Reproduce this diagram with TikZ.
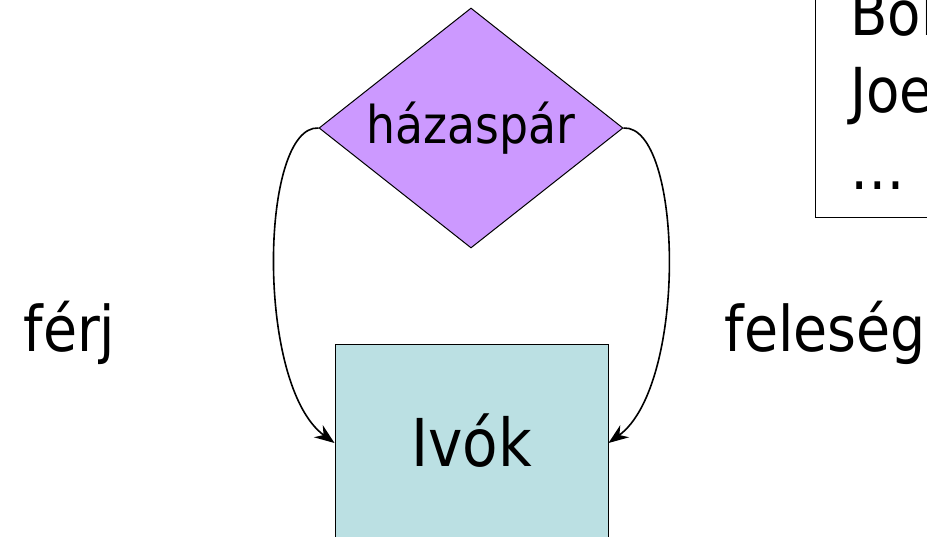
\documentclass[tikz,border=0pt]{standalone}
\usepackage{fontspec}
\setmainfont{DejaVu Sans}[FakeStretch=0.88]
\usetikzlibrary{arrows.meta,shapes.geometric}
\definecolor{relfill}{RGB}{204,153,255}
\definecolor{entfill}{RGB}{187,224,227}

\begin{document}
\begin{tikzpicture}[x=1pt,y=-1pt]
	\useasboundingbox (0,0) rectangle (927,537);
	\clip (0,0) rectangle (927,537);
	\begin{scope}[every node/.style = {draw=black, line width=1pt, inner sep=0pt}]
		\node[diamond, aspect=1.27, fill=relfill, minimum width=304pt, minimum height=240pt,
			font=\fontsize{52}{60}\selectfont] (H) at (471,128) {házaspár};
		\node[rectangle, fill=entfill, minimum width=273pt, minimum height=196pt, text depth=5pt,
			font=\fontsize{66}{70}\selectfont] (I) at (471.5,443) {Ivók};
		\node[rectangle, anchor=south west, align=left, inner xsep=35pt, inner ysep=28pt,
			font=\fontsize{62}{77}\selectfont] (N) at (815,218) {Bob\\Joe\\…};
	\end{scope}
	\begin{scope}[every node/.style = {font=\fontsize{63}{70}\selectfont, anchor=base west}]
		\node (F) at (20,352) {férj};
		\node (W) at (721,352) {feleség};
	\end{scope}
	\begin{scope}[>={Stealth[length=20pt,width=15pt]}, line width=1.6pt]
		\draw [->] (H.west) .. controls (260,125) and (255,385) .. (I.west);
		\draw [->] (H.east) .. controls (683,125) and (688,385) .. (I.east);
	\end{scope}
\end{tikzpicture}
\end{document}
